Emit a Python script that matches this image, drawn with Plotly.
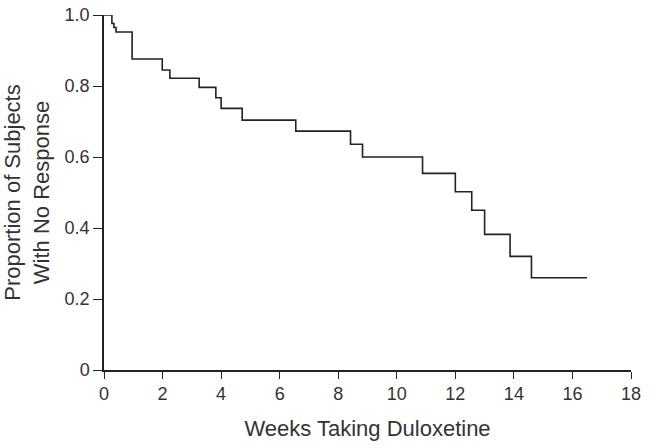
import plotly.graph_objects as go

weeks = [0, 0.27, 0.34, 0.41, 0.96, 1.99, 2.25, 3.25, 3.82, 4.0, 4.72, 6.55, 8.42, 8.83, 10.88, 12.0, 12.56, 13.0, 13.87, 14.6, 16.5]
proportion = [1.0, 0.976, 0.965, 0.952, 0.876, 0.845, 0.822, 0.796, 0.767, 0.737, 0.704, 0.673, 0.636, 0.6, 0.554, 0.502, 0.45, 0.382, 0.32, 0.26, 0.26]

x_ticks = [0, 2, 4, 6, 8, 10, 12, 14, 16, 18]
y_ticks = [0, 0.2, 0.4, 0.6, 0.8, 1.0]
y_tick_labels = ["0", "0.2", "0.4", "0.6", "0.8", "1.0"]

fig = go.Figure()
fig.add_trace(go.Scatter(
    x=weeks, y=proportion, mode="lines", line_shape="hv",
    line=dict(color="#222222", width=1.6), showlegend=False, hoverinfo="skip"
))

font = dict(family="Liberation Sans, Arial, sans-serif", size=18, color="#333333")
fig.update_layout(
    width=649, height=448,
    margin=dict(l=104, r=18, t=15, b=78, autoexpand=False),
    paper_bgcolor="white", plot_bgcolor="white",
    font=font,
    xaxis=dict(
        range=[0, 18], tickvals=x_ticks, ticktext=[str(v) for v in x_ticks],
        showgrid=False, zeroline=False, showline=True, linecolor="#222222", linewidth=1.5,
        ticks="outside", ticklen=7, tickcolor="#222222", tickwidth=1,
        automargin=False, ticklabeloverflow="allow",
        title=dict(text="Weeks Taking Duloxetine", standoff=17),
    ),
    yaxis=dict(
        range=[0, 1.0], tickvals=y_ticks, ticktext=y_tick_labels,
        showgrid=False, zeroline=False, showline=True, linecolor="#222222", linewidth=1.5,
        ticks="outside", ticklen=9, tickcolor="#222222", tickwidth=1,
        automargin=False, ticklabeloverflow="allow",
        title=dict(text="Proportion of Subjects<br>With No Response", standoff=22),
    ),
)

fig.write_html("out.html", config={"displayModeBar": False},
               post_script="document.body.style.margin='0';")
